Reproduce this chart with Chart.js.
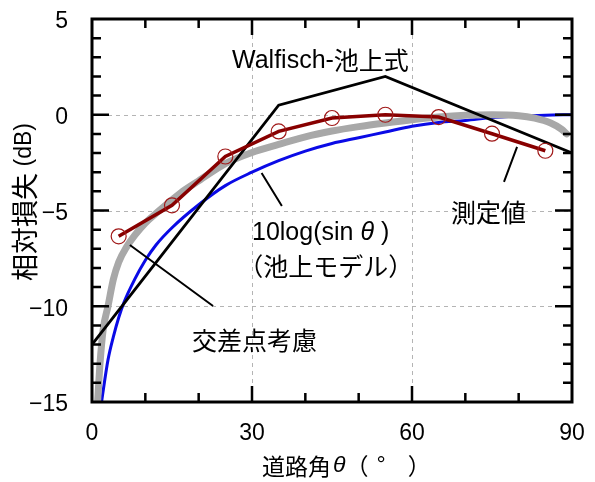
<!DOCTYPE html>
<html lang="ja">
<head>
<meta charset="utf-8">
<title>道路角と相対損失</title>
<script src="https://cdn.jsdelivr.net/npm/chart.js@4.4.0/dist/chart.umd.min.js"></script>
<style>
  html, body { margin: 0; padding: 0; background: #fff; }
  #wrap { width: 595px; height: 482px; }
</style>
</head>
<body>
<div id="wrap"><canvas id="loss-chart" width="595" height="482"></canvas></div>
<script>
	'use strict';

	// 測定値 (deg, dB)
	var measAngle = [5, 15, 25, 35, 45, 55, 65, 75, 85];
	var measLoss = [-6.35, -4.73, -2.18, -0.87, -0.17, 0.0, -0.12, -0.99, -1.88];

	// Walfisch-池上式
	var walfAngle = [0, 35, 55, 90];
	var walfLoss = [-12.0, 0.5, 2.0, -2.0];

	// 10log(sin θ) 池上モデル
	var sinAngle = [1.8, 2, 3, 4, 5, 6, 8, 10, 12, 15, 20, 25, 30, 35, 40, 45, 50, 55, 60, 65, 70, 75, 80, 85, 90];
	var sinLoss = [-15.0, -14.6, -12.8, -11.6, -10.6, -9.8, -8.6, -7.6, -6.8, -5.9, -4.7, -3.7, -3.0, -2.4, -1.9, -1.5, -1.2, -0.9, -0.6, -0.4, -0.3, -0.15, -0.07, -0.02, 0];

	// 交差点考慮
	var crossAngle = [1.05, 1.5, 2.1, 3.0, 4.0, 5.0, 6.5, 8.0, 10, 12, 15, 17, 20, 25, 30, 35, 40, 45, 50, 55, 60, 65, 70, 75, 80, 83, 86, 88, 89];
	var crossLoss = [-15, -13, -11.2, -10, -8.6, -7.7, -6.9, -6.3, -5.65, -5.15, -4.45, -4.0, -3.45, -2.55, -1.97, -1.55, -1.15, -0.85, -0.62, -0.43, -0.26, -0.12, -0.03, 0, -0.05, -0.18, -0.43, -0.75, -1.0];

	// axes
	var xTicks = [0, 30, 60, 90];
	var yTicks = [-15, -10, -5, 0, 5];
	var xGrid = [30, 60];
	var yGrid = [0, -5, -10];

	var LAT = '25px "Liberation Sans", Arial, sans-serif';
	var LAT_IT = 'italic 25px "Liberation Sans", Arial, sans-serif';
	var CJK = '25px "Noto Sans CJK JP", sans-serif';
	var LAT_AX = '23px "Liberation Sans", Arial, sans-serif';
	var LAT_AX_IT = 'italic 23px "Liberation Sans", Arial, sans-serif';
	var CJK_AX = '23px "Noto Sans CJK JP", sans-serif';
	var CJK_Y = '27px "Noto Sans CJK JP", sans-serif';

	function pairs(xs, ys) {
		return xs.map(function(x, i) { return { x: x, y: ys[i] }; });
	}

	// draw a row of text pieces that may use different fonts;
	// an optional third entry adds space before the piece
	function drawRuns(ctx, runs, x, y) {
		var cx = x;
		runs.forEach(function(r) {
			cx += r[2] || 0;
			ctx.font = r[1];
			ctx.fillText(r[0], cx, y);
			cx += ctx.measureText(r[0]).width;
		});
		return cx - x;
	}

	function runsWidth(ctx, runs) {
		var w = 0;
		runs.forEach(function(r) {
			ctx.font = r[1];
			w += (r[2] || 0) + ctx.measureText(r[0]).width;
		});
		return w;
	}

	// labels in data coordinates, leader lines as [x1, y1, x2, y2]
	var notes = [
		{ x: 26.25, y: 2.81, runs: [['Walfisch-', LAT], ['池上式', CJK]] },
		{ x: 30.0, y: -6.17, runs: [['10log(sin ', LAT], ['θ', LAT_IT], [' )', LAT]] },
		{ x: 27.4, y: -7.9, runs: [['（池上モデル）', CJK]] },
		{ x: 18.75, y: -11.81, runs: [['交差点考慮', CJK]] },
		{ x: 67.3, y: -5.08, runs: [['測定値', CJK]] }
	];
	var leaders = [
		[31.8, -3.04, 35.6, -4.76],
		[7.1, -6.8, 22.7, -9.99],
		[79.7, -1.68, 77.25, -3.51]
	];

	var framePlugin = {
		id: 'frame',
		beforeDatasetsDraw: function(chart) {
			var ctx = chart.ctx, a = chart.chartArea;
			var xs = chart.scales.x, ys = chart.scales.y;
			ctx.save();
			ctx.strokeStyle = '#b4b4b4';
			ctx.lineWidth = 1;
			ctx.setLineDash([4, 4]);
			ctx.beginPath();
			xGrid.forEach(function(v) {
				var px = Math.round(xs.getPixelForValue(v)) + 0.5;
				ctx.moveTo(px, a.top); ctx.lineTo(px, a.bottom);
			});
			yGrid.forEach(function(v) {
				var py = Math.round(ys.getPixelForValue(v)) + 0.5;
				ctx.moveTo(a.left, py); ctx.lineTo(a.right, py);
			});
			ctx.stroke();
			ctx.restore();
		},
		afterDatasetsDraw: function(chart) {
			var ctx = chart.ctx, a = chart.chartArea;
			var xs = chart.scales.x, ys = chart.scales.y;
			var v, px, py, len;
			ctx.save();

			// inward ticks on all four sides
			ctx.strokeStyle = '#000';
			ctx.lineWidth = 2.5;
			ctx.beginPath();
			for (v = 10; v < 90; v += 10) {
				px = xs.getPixelForValue(v);
				len = v % 30 === 0 ? 16 : 9;
				ctx.moveTo(px, a.bottom); ctx.lineTo(px, a.bottom - len);
				ctx.moveTo(px, a.top); ctx.lineTo(px, a.top + len);
			}
			for (v = -14; v < 5; v += 1) {
				py = ys.getPixelForValue(v);
				len = v % 5 === 0 ? 17 : 9;
				ctx.moveTo(a.left, py); ctx.lineTo(a.left + len, py);
				ctx.moveTo(a.right, py); ctx.lineTo(a.right - len, py);
			}
			ctx.stroke();

			ctx.lineWidth = 3;
			ctx.strokeRect(a.left, a.top, a.right - a.left, a.bottom - a.top);

			// leader lines
			ctx.lineWidth = 2;
			ctx.beginPath();
			leaders.forEach(function(l) {
				ctx.moveTo(xs.getPixelForValue(l[0]), ys.getPixelForValue(l[1]));
				ctx.lineTo(xs.getPixelForValue(l[2]), ys.getPixelForValue(l[3]));
			});
			ctx.stroke();

			// labels
			ctx.fillStyle = '#000';
			ctx.textBaseline = 'middle';
			ctx.textAlign = 'left';
			notes.forEach(function(n) {
				drawRuns(ctx, n.runs, xs.getPixelForValue(n.x), ys.getPixelForValue(n.y));
			});

			// axis titles
			var xt = [['道路角', CJK_AX], ['θ', LAT_AX_IT, 2], ['（', CJK_AX], ['°', LAT_AX, 8], ['）', CJK_AX, 22]];
			drawRuns(ctx, xt, 262, 466);

			var yt = [['相対損失', CJK_Y], [' (dB)', LAT_AX]];
			ctx.translate(25, 202);
			ctx.rotate(-Math.PI / 2);
			drawRuns(ctx, yt, -runsWidth(ctx, yt) / 2, 0);
			ctx.restore();
		}
	};

	function minusLabel(v) {
		return v < 0 ? '\u2212' + Math.abs(v) : String(v);
	}

	new Chart(document.getElementById('loss-chart'), {
		type: 'line',
		data: {
			datasets: [{
				label: '測定値',
				data: pairs(measAngle, measLoss),
				borderColor: '#880000',
				borderWidth: 3.5,
				tension: 0,
				pointRadius: 7.5,
				pointBorderWidth: 1.2,
				pointBorderColor: '#a01818',
				pointBackgroundColor: 'rgba(0,0,0,0)',
				order: 1
			}, {
				label: 'Walfisch-池上式',
				data: pairs(walfAngle, walfLoss),
				borderColor: '#000000',
				borderWidth: 2.8,
				tension: 0,
				pointRadius: 0,
				order: 2
			}, {
				label: '交差点考慮',
				data: pairs(crossAngle, crossLoss),
				borderColor: '#a8a8a8',
				borderWidth: 7,
				borderCapStyle: 'round',
				cubicInterpolationMode: 'monotone',
				pointRadius: 0,
				order: 3
			}, {
				label: '10log(sin θ)',
				data: pairs(sinAngle, sinLoss),
				borderColor: '#0a0ae6',
				borderWidth: 3,
				cubicInterpolationMode: 'monotone',
				pointRadius: 0,
				order: 4
			}]
		},
		options: {
			responsive: false,
			animation: false,
			events: [],
			layout: { autoPadding: false, padding: { top: 19, right: 23, left: 0, bottom: 0 } },
			plugins: {
				legend: { display: false },
				tooltip: { enabled: false }
			},
			scales: {
				x: {
					type: 'linear',
					min: 0,
					max: 90,
					afterBuildTicks: function(scale) {
						scale.ticks = xTicks.map(function(v) { return { value: v }; });
					},
					afterFit: function(scale) {
						scale.height = 80;
						scale.paddingLeft = 0;
						scale.paddingRight = 0;
					},
					grid: { display: false },
					border: { display: false },
					ticks: {
						color: '#000',
						padding: 10,
						maxRotation: 0,
						font: { family: '"Liberation Sans", Arial, sans-serif', size: 23 }
					}
				},
				y: {
					type: 'linear',
					min: -15,
					max: 5,
					afterBuildTicks: function(scale) {
						scale.ticks = yTicks.map(function(v) { return { value: v }; });
					},
					afterFit: function(scale) {
						scale.width = 92;
						scale.paddingTop = 0;
						scale.paddingBottom = 0;
					},
					grid: { display: false },
					border: { display: false },
					ticks: {
						color: '#000',
						padding: 16,
						labelOffset: 3,
						callback: minusLabel,
						font: { family: '"Liberation Sans", Arial, sans-serif', size: 23 }
					}
				}
			}
		},
		plugins: [framePlugin]
	});
</script>
</body>
</html>
